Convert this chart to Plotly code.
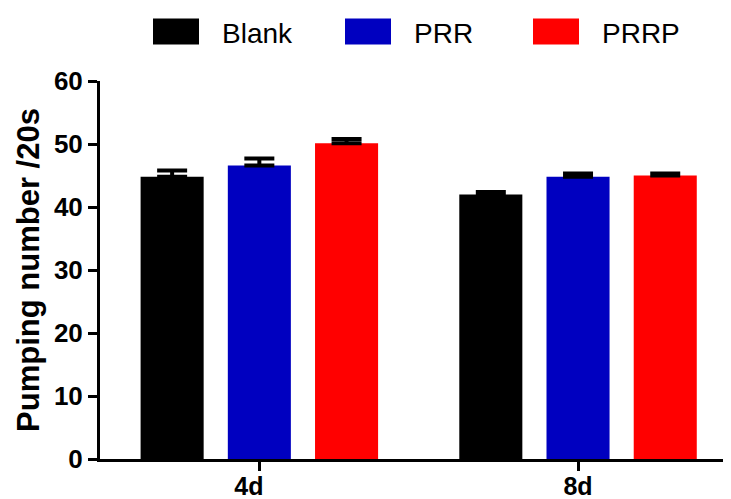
import plotly.graph_objects as go

# ---- data ----
categories = ["4d", "8d"]
tick_labels = ["4d\u00a0\u00a0\u00a0", "8d"]
series_names = ["Blank", "PRR", "PRRP"]
blank_vals = [44.8, 42.0]
prr_vals = [46.6, 44.8]
prrp_vals = [50.1, 45.0]
blank_err = [1.0, 0.4]
prr_err = [1.1, 0.5]
prrp_err = [0.7, 0.3]
y_ticks = [0, 10, 20, 30, 40, 50, 60]

# ---- style ----
colors = ["#000000", "#0000C0", "#FF0000"]
FONT = "Liberation Sans, Arial, sans-serif"
OFF = 8  # page body margin offset
W, H = 731 - OFF, 499 - OFF
L, R, T, B = 100 - OFF, 0, 81 - OFF, 40
PW, PH = W - L - R, H - T - B

def px_x(p):
    return (p - OFF - L) / PW

def px_y(p):
    return (H - B - (p - OFF)) / PH

x_pos = list(range(len(categories)))
values = [blank_vals, prr_vals, prrp_vals]
errors = [blank_err, prr_err, prrp_err]

fig = go.Figure()
for name, vals, errs, col in zip(series_names, values, errors, colors):
    fig.add_trace(go.Bar(
        x=x_pos, y=vals, name=name,
        marker=dict(color=col, line=dict(width=0)),
        error_y=dict(type="data", array=errs, arrayminus=[0] * len(errs),
                     symmetric=False, color="#000000", thickness=4, width=15),
        showlegend=False,
    ))

# custom legend (large swatches like the reference)
leg_swatch_x = [153, 345, 533]
leg_text_x = [220, 412, 600]
sw_w, sw_top, sw_bot = 46, 18.5, 44.5
shapes = []
annotations = []
for name, col, sx, tx in zip(series_names, colors, leg_swatch_x, leg_text_x):
    shapes.append(dict(type="rect", xref="paper", yref="paper",
                       x0=px_x(sx), x1=px_x(sx + sw_w), y0=px_y(sw_bot), y1=px_y(sw_top),
                       fillcolor=col, line=dict(width=0)))
    annotations.append(dict(text=name, xref="paper", yref="paper",
                            x=px_x(tx), y=px_y(34), xanchor="left", yanchor="middle",
                            showarrow=False, font=dict(family=FONT, size=28, color="#000000")))

fig.update_layout(
    width=W, height=H,
    margin=dict(l=L, r=R, t=T, b=B, pad=0, autoexpand=False),
    paper_bgcolor="white", plot_bgcolor="white",
    barmode="group", bargap=0.179, bargroupgap=0.277,
    shapes=shapes, annotations=annotations,
    font=dict(family=FONT, color="#000000"),
)
fig.update_xaxes(
    range=[-0.5, 1.48], tickmode="array", tickvals=x_pos, ticktext=tick_labels,
    showline=True, linecolor="#000000", linewidth=3,
    ticks="outside", ticklen=9, tickwidth=3, tickcolor="#000000",
    tickfont=dict(family=FONT, size=25, color="#000000", weight="bold"),
    ticklabelstandoff=-6,
    showgrid=False, zeroline=False, automargin=False,
)
fig.update_yaxes(
    range=[0, 60], tickmode="array", tickvals=y_ticks,
    showline=True, linecolor="#000000", linewidth=3,
    ticks="outside", ticklen=9, tickwidth=3, tickcolor="#000000",
    tickfont=dict(family=FONT, size=26, color="#000000", weight="bold"),
    title=dict(text="Pumping number /20s", standoff=6,
               font=dict(family=FONT, size=31, color="#000000", weight="bold")),
    showgrid=False, zeroline=False, automargin=False,
)

fig.write_html("out.html")
